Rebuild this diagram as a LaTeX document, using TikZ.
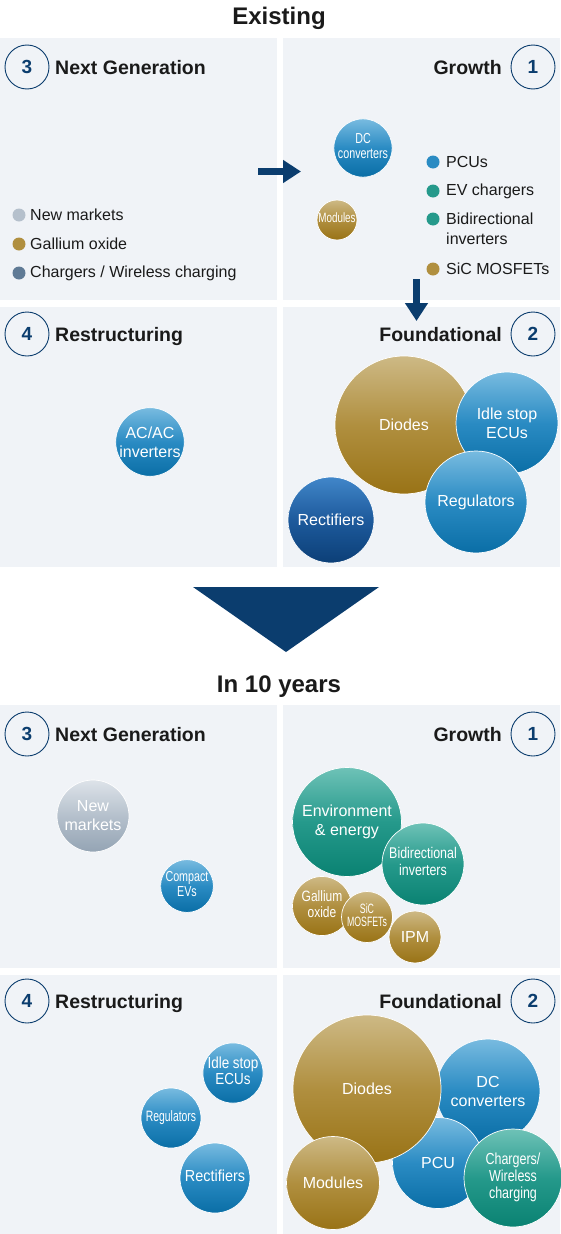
\documentclass[tikz,border=0pt]{standalone}
\usepackage{fontspec}
\setmainfont{Liberation Sans}
\usetikzlibrary{arrows.meta}
\definecolor{navy}{HTML}{0B3D6E}
\definecolor{panel}{HTML}{F0F3F7}
\definecolor{head}{HTML}{1A1A1A}
\definecolor{bluT}{HTML}{78BBE0}
\definecolor{bluM}{HTML}{2A8BC3}
\definecolor{bluB}{HTML}{0A6EA6}
\definecolor{golT}{HTML}{CDB985}
\definecolor{golM}{HTML}{B08F3F}
\definecolor{golB}{HTML}{997316}
\definecolor{teaT}{HTML}{6EC2B7}
\definecolor{teaM}{HTML}{25998B}
\definecolor{teaB}{HTML}{0A8272}
\definecolor{dbuT}{HTML}{4186C9}
\definecolor{dbuM}{HTML}{1D5A9C}
\definecolor{dbuB}{HTML}{0C3F77}
\definecolor{gryT}{HTML}{DDE3E9}
\definecolor{gryM}{HTML}{B5C0CC}
\definecolor{gryB}{HTML}{94A4B4}
\definecolor{sltM}{HTML}{5F7A95}
\newcommand{\cnd}[2]{\scalebox{#1}[1]{\begin{tabular}{@{}c@{}}#2\end{tabular}}}
\tikzset{
  pnl/.style={fill=panel, draw=none},
  bub/.style={circle, inner sep=0pt, minimum size=#1, text=white, align=center,
    draw=white, line width=0.7pt, font=\fontsize{16}{19}\selectfont},
  sblue/.style={top color=bluT, bottom color=bluB, middle color=bluM},
  sgold/.style={top color=golT, bottom color=golB, middle color=golM},
  steal/.style={top color=teaT, bottom color=teaB, middle color=teaM},
  sdblue/.style={top color=dbuT, bottom color=dbuB, middle color=dbuM},
  sgrey/.style={top color=gryT, bottom color=gryB, middle color=gryM},
  dot/.style={circle, inner sep=0pt, minimum size=13pt, fill=#1},
  leg/.style={anchor=west, inner sep=0pt, text=head, align=left, font=\fontsize{16}{20}\selectfont},
  numc/.style={circle, draw=navy, line width=0.9pt, minimum size=44pt, inner sep=0pt,
    text=navy, font=\fontsize{19}{19}\selectfont\bfseries},
  hdl/.style={anchor=base west, inner sep=0pt, text=head, font=\fontsize{19.5}{20}\selectfont\bfseries},
  hdr/.style={anchor=base east, inner sep=0pt, text=head, font=\fontsize{19.5}{20}\selectfont\bfseries},
  ttl/.style={inner sep=0pt, text=head, font=\fontsize{24}{24}\selectfont\bfseries},
  navarrow/.style={draw=navy, line width=7pt, -{Triangle[length=18pt, width=22pt]}}
}
\begin{document}
\begin{tikzpicture}[x=1pt,y=-1pt]
\useasboundingbox[fill=white] (0,0) rectangle (560,1234);
% panels
\fill[pnl] (0,38) rectangle (277,300);
\fill[pnl] (283,38) rectangle (560,300);
\fill[pnl] (0,307) rectangle (277,567);
\fill[pnl] (283,307) rectangle (560,567);
\fill[pnl] (0,705) rectangle (277,968);
\fill[pnl] (283,705) rectangle (560,968);
\fill[pnl] (0,975) rectangle (277,1234);
\fill[pnl] (283,975) rectangle (560,1234);
% titles
\node[ttl] (existing) at (279,18) {Existing};
\node[ttl] (tenyears) at (279,687) {In 10 years};
% big triangle
\coordinate (trl) at (193,587);
\coordinate (trr) at (379,587);
\coordinate (tra) at (286,652);
\fill[navy] (trl) -- (trr) -- (tra) -- cycle;
% ---------- Existing ----------
\node[numc] (na3) at (27,67) {3};
\node[hdl] (ha3) at (55,74) {Next Generation};
\node[numc] (na1) at (533,67) {1};
\node[hdr] (ha1) at (502,74) {Growth};
\node[numc] (na4) at (27,334) {4};
\node[hdl] (ha4) at (55,341) {Restructuring};
\node[numc] (na2) at (533,334) {2};
\node[hdr] (ha2) at (502,341) {Foundational};
% left legend
\node[dot=gryM] (dl1) at (19,215) {};
\node[leg] (ll1) at (30,215) {New markets};
\node[dot=golM] (dl2) at (19,244) {};
\node[leg] (ll2) at (30,244) {Gallium oxide};
\node[dot=sltM] (dl3) at (19,273) {};
\node[leg] (ll3) at (30,273) {Chargers / Wireless charging};
% right legend
\node[dot=bluM] (dr1) at (433,162) {};
\node[leg] (lr1) at (446,162) {PCUs};
\node[dot=teaM] (dr2) at (433,191) {};
\node[leg] (lr2) at (446,191) {EV chargers};
\node[dot=teaM] (dr3) at (433,219) {};
\node[leg] (lr3) at (446,229) {Bidirectional\\inverters};
\node[dot=golM] (dr4) at (433,269) {};
\node[leg] (lr4) at (446,269) {SiC MOSFETs};
% bubbles existing
\node[bub=57pt, sblue] (dc1) at (363,148) {\fontsize{14.5}{15}\selectfont\cnd{0.74}{DC\\converters}};
\node[bub=40pt, sgold] (mod1) at (337,220) {\fontsize{13.5}{14}\selectfont\cnd{0.73}{Modules}};
\node[bub=68pt, sblue] (acac) at (150,442) {AC/AC\\inverters};
\node[bub=86pt, sdblue] (rect1) at (331,520) {Rectifiers};
\node[bub=138pt, sgold] (diod1) at (404,425) {Diodes};
\node[bub=102pt, sblue] (idle1) at (507,423) {Idle stop\\ECUs};
\node[bub=102pt, sblue] (reg1) at (476,502) {Regulators};
% small arrows
\coordinate (ras) at (258,171.5);
\coordinate (rae) at (301,171.5);
\draw[navarrow] (ras) -- (rae);
\coordinate (das) at (416.5,279);
\coordinate (dae) at (416.5,321);
\draw[navarrow] (das) -- (dae);
% ---------- In 10 years ----------
\node[numc] (nb3) at (27,734) {3};
\node[hdl] (hb3) at (55,741) {Next Generation};
\node[numc] (nb1) at (533,734) {1};
\node[hdr] (hb1) at (502,741) {Growth};
\node[numc] (nb4) at (27,1001) {4};
\node[hdl] (hb4) at (55,1008) {Restructuring};
\node[numc] (nb2) at (533,1001) {2};
\node[hdr] (hb2) at (502,1008) {Foundational};
% next generation
\node[bub=72pt, sgrey] (newm) at (93,816) {New\\markets};
\node[bub=52pt, sblue] (cev) at (187,886) {\fontsize{14.5}{15.5}\selectfont\cnd{0.74}{Compact\\EVs}};
% growth
\node[bub=109pt, steal] (env) at (347,822) {Environment\\\& energy};
\node[bub=82pt, steal] (bid) at (423,864) {\fontsize{15.5}{17}\selectfont\cnd{0.8}{Bidirectional\\inverters}};
\node[bub=59pt, sgold] (gal) at (322,906) {\fontsize{15}{16}\selectfont\cnd{0.8}{Gallium\\oxide}};
\node[bub=51pt, sgold] (sic) at (367,917) {\fontsize{13.5}{13.5}\selectfont\cnd{0.65}{SiC\\MOSFETs}};
\node[bub=52pt, sgold] (ipm) at (415,937) {IPM};
% restructuring
\node[bub=60pt, sblue] (idle2) at (233,1073) {\fontsize{16}{16}\selectfont\cnd{0.84}{Idle stop\\ECUs}};
\node[bub=60pt, sblue] (reg2) at (171,1118) {\fontsize{15}{15}\selectfont\cnd{0.69}{Regulators}};
\node[bub=70pt, sblue] (rect2) at (215,1178) {\fontsize{16}{16}\selectfont\cnd{0.9}{Rectifiers}};
% foundational
\node[bub=104pt, sblue] (dc2) at (488,1091) {DC\\converters};
\node[bub=91pt, sblue] (pcu) at (438,1163) {PCU};
\node[bub=98pt, steal] (chg) at (513,1178) {\fontsize{16}{17}\selectfont\cnd{0.78}{Chargers/\\Wireless\\charging}};
\node[bub=148pt, sgold] (diod2) at (367,1089) {Diodes};
\node[bub=93pt, sgold] (mod2) at (333,1183) {Modules};
\end{tikzpicture}
\end{document}
